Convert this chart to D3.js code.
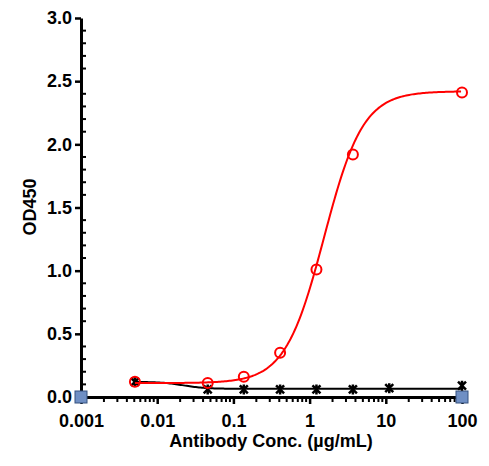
<!DOCTYPE html>
<html><head><meta charset="utf-8">
<script src="https://cdn.jsdelivr.net/npm/d3@7"></script>
<style>body{margin:0;background:#fff}text{font-family:Arial,"Liberation Sans",sans-serif;font-weight:bold}</style>
</head><body><svg id="c" width="489" height="466"></svg>
<script>
const concRed = [0.0051, 0.046, 0.137, 0.41, 1.23, 3.7, 100];
const odRed = [0.12, 0.11, 0.16, 0.35, 1.01, 1.92, 2.41];
const concBlack = [0.0051, 0.046, 0.137, 0.41, 1.23, 3.7, 11.1, 100];
const odBlack = [0.12, 0.06, 0.06, 0.06, 0.06, 0.06, 0.07, 0.09];
// 4PL fits
const fitBottom = 0.11, fitTop = 2.42, fitEC50 = 1.55, fitHill = 1.7;
const blkHigh = 0.12, blkLow = 0.065, blkEC50 = 0.022, blkHill = 3;
const xTicks = [0.001, 0.01, 0.1, 1, 10, 100];
const yTicks = [0, 0.5, 1, 1.5, 2, 2.5, 3];

const svg = d3.select("#c");
const x = d3.scaleLog().domain([0.001, 100]).range([81, 462]);
const y = d3.scaleLinear().domain([0, 3]).range([397, 18]);

// minor ticks
const xMinor = [];
for (let e = -3; e < 2; e++) for (let k = 2; k < 10; k++) xMinor.push(k * Math.pow(10, e));
svg.selectAll(".xm").data(xMinor).enter().append("line")
  .attr("x1", d => x(d)).attr("x2", d => x(d)).attr("y1", 397).attr("y2", 402)
  .attr("stroke", "#000").attr("stroke-width", 2);
const yMinor = d3.range(0.1, 3, 0.1).filter(v => Math.abs(v * 2 - Math.round(v * 2)) > 0.01);
svg.selectAll(".ym").data(yMinor).enter().append("line")
  .attr("x1", 81).attr("x2", 86).attr("y1", d => y(d)).attr("y2", d => y(d))
  .attr("stroke", "#000").attr("stroke-width", 2);

const xAxis = svg.append("g").attr("transform", "translate(0,397)")
  .call(d3.axisBottom(x).tickValues(xTicks).tickFormat(d => String(d)).tickSize(7).tickSizeOuter(0));
const yAxis = svg.append("g").attr("transform", "translate(81,0)")
  .call(d3.axisLeft(y).tickValues(yTicks).tickFormat(d3.format(".1f")).tickSize(6).tickSizeOuter(0));
[xAxis, yAxis].forEach(g => {
  g.select(".domain").attr("stroke-width", 3);
  g.selectAll(".tick line").attr("stroke-width", 2.5);
  g.selectAll("text").attr("font-size", 18).attr("fill", "#000");
});
xAxis.selectAll("text").attr("dy", "1.1em");

svg.selectAll(".sq").data([0.001, 100]).enter().append("rect")
  .attr("x", d => x(d) - 6).attr("y", 391).attr("width", 12).attr("height", 12)
  .attr("fill", "#6f8fc4").attr("stroke", "#34507e");

svg.append("text").attr("x", 271).attr("y", 447).attr("text-anchor", "middle")
  .attr("font-size", 18).text("Antibody Conc. (µg/mL)");
svg.append("text").attr("transform", "translate(36,207) rotate(-90)").attr("text-anchor", "middle")
  .attr("font-size", 18).text("OD450");

const fitX = d3.range(Math.log10(0.0051), Math.log10(100) + 0.001, 0.02).map(v => Math.pow(10, v));

// black fitted line
const blk = c => blkLow + (blkHigh - blkLow) / (1 + Math.pow(c / blkEC50, blkHill));
svg.append("path").datum(fitX)
  .attr("d", d3.line().x(d => x(d)).y(d => y(blk(d))))
  .attr("fill", "none").attr("stroke", "#000").attr("stroke-width", 2);
const xs = svg.selectAll(".bx").data(concBlack).enter().append("g")
  .attr("transform", (d, i) => `translate(${x(d)},${y(odBlack[i])})`);
xs.append("path").attr("d", "M-4,-4L4,4M-4,4L4,-4M0,-5L0,5")
  .attr("stroke", "#000").attr("stroke-width", 2.5);

// red fitted curve
const fit = c => fitBottom + (fitTop - fitBottom) / (1 + Math.pow(fitEC50 / c, fitHill));
svg.append("path").datum(fitX)
  .attr("d", d3.line().x(d => x(d)).y(d => y(fit(d))))
  .attr("fill", "none").attr("stroke", "#f00").attr("stroke-width", 2);
svg.selectAll(".rc").data(concRed).enter().append("circle")
  .attr("cx", d => x(d)).attr("cy", (d, i) => y(odRed[i])).attr("r", 5)
  .attr("fill", "none").attr("stroke", "#f00").attr("stroke-width", 2);
</script></body></html>
